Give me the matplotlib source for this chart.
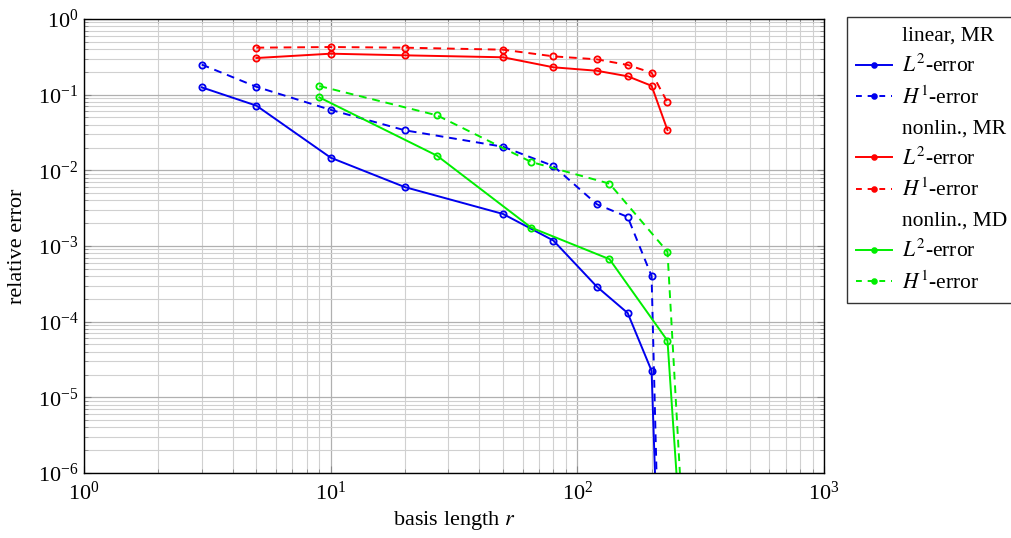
import matplotlib
matplotlib.use("Agg")
import matplotlib.pyplot as plt
from matplotlib.lines import Line2D
from matplotlib.ticker import LogLocator, NullFormatter

plt.rcParams['font.family'] = ['Liberation Serif', 'DejaVu Serif']
plt.rcParams['mathtext.fontset'] = 'stix'

# data
lin_mr_x = [3, 5, 10, 20, 50, 80, 120, 160, 200, 220]
lin_mr_l2 = [0.125, 0.0716, 0.0147, 0.0060, 0.00265, 0.00118, 2.9e-4, 1.3e-4, 2.24e-5, 2e-9]
lin_mr_h1 = [0.25, 0.127, 0.063, 0.0338, 0.0205, 0.0114, 0.00356, 0.00242, 4.0e-4, 1.6e-9]

nl_mr_x = [5, 10, 20, 50, 80, 120, 160, 200, 232]
nl_mr_l2 = [0.305, 0.348, 0.331, 0.312, 0.23, 0.207, 0.175, 0.131, 0.034]
nl_mr_h1 = [0.418, 0.426, 0.418, 0.393, 0.321, 0.293, 0.247, 0.195, 0.079]

nl_md_x = [9, 27, 65, 135, 232, 282]
nl_md_l2 = [0.092, 0.0156, 0.00175, 6.7e-4, 5.6e-5, 4.7e-9]
nl_md_h1 = [0.13, 0.0533, 0.0129, 0.00667, 8.4e-4, 1e-8]

BLUE = '#0000ee'
RED = '#ff0000'
GREEN = '#00ee00'

fig = plt.figure(figsize=(10.11, 5.38), dpi=100)
ax = fig.add_axes([84/1011, 65/538, 740/1011, 454/538])

for x, y2, y1, c in [(lin_mr_x, lin_mr_l2, lin_mr_h1, BLUE),
                     (nl_mr_x, nl_mr_l2, nl_mr_h1, RED),
                     (nl_md_x, nl_md_l2, nl_md_h1, GREEN)]:
    ax.plot(x, y2, color=c, lw=1.4, marker='o', ms=4.5, mfc='none', mew=1.3)
    ax.plot(x, y1, color=c, lw=1.4, ls=(0, (4, 3)), marker='o', ms=4.5, mfc='none', mew=1.3)

ax.set_xscale('log')
ax.set_yscale('log')
ax.set_xlim(1, 1000)
ax.set_ylim(1e-6, 1)
ax.xaxis.set_major_locator(LogLocator(base=10, numticks=10))
ax.yaxis.set_major_locator(LogLocator(base=10, numticks=10))
ax.xaxis.set_minor_locator(LogLocator(base=10, subs=range(2, 10), numticks=20))
ax.yaxis.set_minor_locator(LogLocator(base=10, subs=range(2, 10), numticks=20))
ax.xaxis.set_minor_formatter(NullFormatter())
ax.yaxis.set_minor_formatter(NullFormatter())
ax.grid(True, which='major', color='#b0b0b0', lw=0.9)
ax.grid(True, which='minor', color='#d0d0d0', lw=0.8)
ax.set_axisbelow(True)
ax.tick_params(which='both', direction='in', top=True, right=True, labelsize=16)
ax.tick_params(which='major', length=5, color='#888888')
ax.tick_params(which='minor', length=3, color='#888888')
ax.tick_params(axis='x', which='major', pad=6)
ax.tick_params(axis='y', which='major', pad=4)
for s in ax.spines.values():
    s.set_linewidth(1.0)

ax.set_xlabel('basis length $r$', fontsize=16, labelpad=3)
ax.set_ylabel('relative error', fontsize=16, labelpad=8)

blank = Line2D([], [], color='none')
def h(c, ls):
    return Line2D([], [], color=c, lw=1.4, ls=ls, marker='o', ms=3.5, mew=1.2)
handles = [blank, h(BLUE, '-'), h(BLUE, (0, (3, 3))),
           blank, h(RED, '-'), h(RED, (0, (3, 3))),
           blank, h(GREEN, '-'), h(GREEN, (0, (3, 3)))]
labels = ['linear, MR', '$L^2$-error', '$H^1$-error',
          'nonlin., MR', '$L^2$-error', '$H^1$-error',
          'nonlin., MD', '$L^2$-error', '$H^1$-error']
leg = fig.legend(handles, labels, loc='upper left', bbox_to_anchor=(847/1011, 1 - 17/538),
                 fontsize=15.5, frameon=True, fancybox=False, edgecolor='black',
                 handlelength=1.7, handletextpad=0.45, labelspacing=0.43, borderpad=0.4,
                 borderaxespad=0)
leg.get_frame().set_linewidth(1.0)

fig.savefig('out.png', dpi=100)
